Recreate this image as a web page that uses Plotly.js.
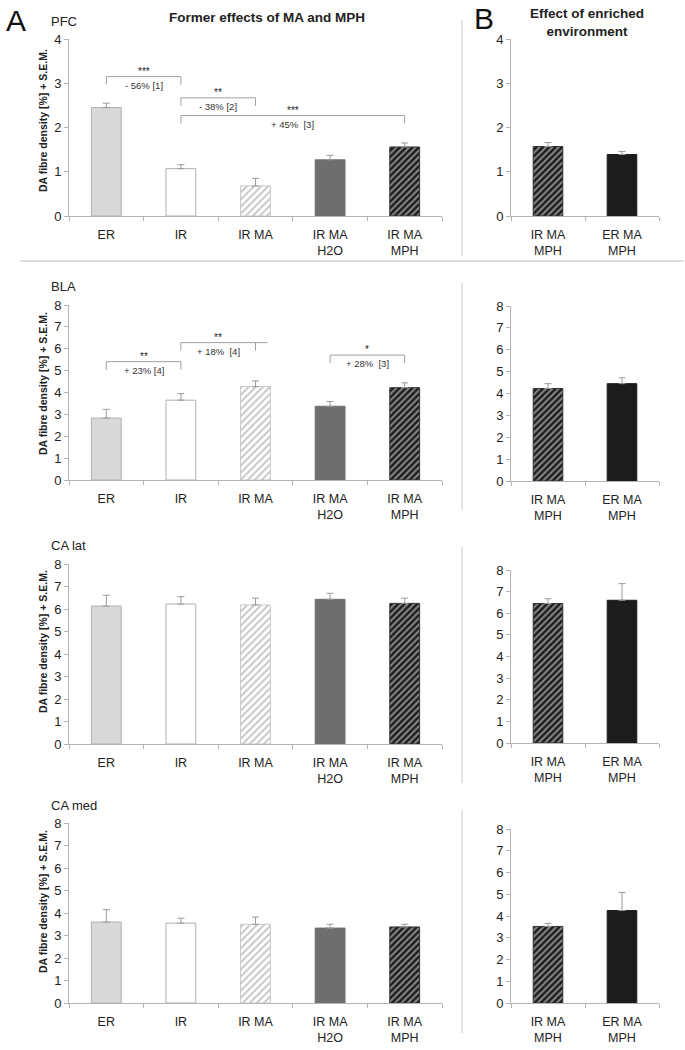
<!DOCTYPE html>
<html>
<head>
<meta charset="utf-8">
<script src="https://cdn.plot.ly/plotly-3.0.1.min.js"></script>
<style>html,body{margin:0;padding:0;background:#fff;}#chart{width:685px;height:1050px;}</style>
</head>
<body>
<div id="chart"></div>
<script>
// ---------- DATA ----------
const categoriesA = ['ER', 'IR', 'IR MA', 'IR MA<br>H2O', 'IR MA<br>MPH'];
const categoriesB = ['IR MA<br>MPH', 'ER MA<br>MPH'];
const regions = ['PFC', 'BLA', 'CA lat', 'CA med'];
const yMaxes = [4, 8, 8, 8];

const pfcMeansA = [2.45, 1.07, 0.68, 1.27, 1.56];
const pfcSemA   = [0.10, 0.09, 0.17, 0.10, 0.09];
const pfcMeansB = [1.57, 1.39];
const pfcSemB   = [0.09, 0.07];

const blaMeansA = [2.83, 3.65, 4.27, 3.37, 4.22];
const blaSemA   = [0.40, 0.30, 0.26, 0.22, 0.22];
const blaMeansB = [4.23, 4.45];
const blaSemB   = [0.22, 0.27];

const calatMeansA = [6.13, 6.22, 6.18, 6.43, 6.25];
const calatSemA   = [0.48, 0.33, 0.30, 0.27, 0.23];
const calatMeansB = [6.45, 6.60];
const calatSemB   = [0.22, 0.77];

const camedMeansA = [3.60, 3.55, 3.50, 3.33, 3.38];
const camedSemA   = [0.55, 0.22, 0.32, 0.17, 0.12];
const camedMeansB = [3.52, 4.25];
const camedSemB   = [0.14, 0.83];

// significance brackets: from/to category index, bracket level, stars, label
const pfcSigFrom   = [0, 1, 1];
const pfcSigTo     = [1, 2, 4];
const pfcSigLevel  = [3.15, 2.67, 2.27];
const pfcSigStars  = ['***', '**', '***'];
const pfcSigLabels = ['- 56% [1]', '- 38% [2]', '+ 45%  [3]'];

const blaSigFrom   = [0, 1, 3];
const blaSigTo     = [1, 2, 4];
const blaSigLevel  = [5.41, 6.28, 5.71];
const blaSigStars  = ['**', '**', '*'];
const blaSigLabels = ['+ 23% [4]', '+ 18%  [4]', '+ 28%  [3]'];

const meansA = [pfcMeansA, blaMeansA, calatMeansA, camedMeansA];
const semA   = [pfcSemA, blaSemA, calatSemA, camedSemA];
const meansB = [pfcMeansB, blaMeansB, calatMeansB, camedMeansB];
const semB   = [pfcSemB, blaSemB, calatSemB, camedSemB];
const sigSets = [
  {from: pfcSigFrom, to: pfcSigTo, level: pfcSigLevel, stars: pfcSigStars, labels: pfcSigLabels},
  {from: blaSigFrom, to: blaSigTo, level: blaSigLevel, stars: blaSigStars, labels: blaSigLabels},
  null, null
];

// ---------- STYLE / LAYOUT ----------
const W = 685, H = 1050;
const px = x => x / W;
const py = y => 1 - y / H;
const FONT = 'Liberation Sans, Arial, sans-serif';

// bar styles per category
const stER    = {color: '#d9d9d9', line: '#b0b0b0'};
const stIR    = {color: '#ffffff', line: '#b0b0b0'};
const stIRMA  = {color: '#ffffff', line: '#c8c8c8', shape: '/', fg: '#c4c4c4', size: 5, sol: 0.35};
const stH2O   = {color: '#6e6e6e', line: '#6e6e6e'};
const stMPH   = {color: '#8a8a8a', line: '#333333', shape: '/', fg: '#1c1c1c', size: 4.5, sol: 0.55};
const stERMPH = {color: '#1c1c1c', line: '#1c1c1c'};
const stylesA = [stER, stIR, stIRMA, stH2O, stMPH];
const stylesB = [stMPH, stERMPH];

// pixel geometry of the panels [top, bottom]
const leftX = [69, 442], rightX = [511, 659];
const leftY = [[39, 216], [305, 480], [564, 744], [823, 1003]];
const rightY = [[39, 216], [306, 481], [570, 743], [829, 1003]];
const yTitleCenters = [121, 384, 642, 902];
const regionLabelY = [21, 286, 545, 805];

const traces = [];
const layout = {
  width: W, height: H,
  margin: {l: 0, r: 0, t: 0, b: 0},
  paper_bgcolor: '#fff', plot_bgcolor: 'rgba(0,0,0,0)',
  showlegend: false, barmode: 'overlay',
  font: {family: FONT, color: '#222'},
  shapes: [], annotations: []
};

function axisPair(idx) {
  const n = idx === 1 ? '' : String(idx);
  return {x: 'x' + n, y: 'y' + n, xl: 'xaxis' + n, yl: 'yaxis' + n};
}

function barTrace(cat, val, sem, st, ax) {
  const marker = {color: st.color, line: {color: st.line, width: 1}};
  if (st.shape) {
    marker.pattern = {shape: st.shape, fgcolor: st.fg, bgcolor: st.color, size: st.size,
                      solidity: st.sol, fillmode: 'replace', fgopacity: 1};
  }
  return {
    type: 'bar', x: [cat], y: [val], xaxis: ax.x, yaxis: ax.y, width: 0.4,
    marker: marker,
    error_y: {type: 'data', symmetric: false, array: [sem], arrayminus: [0],
              color: '#9a9a9a', thickness: 1, width: 3.5},
    hoverinfo: 'skip'
  };
}

function xAxisCfg(domain, cats, anchor) {
  return {
    domain: domain, anchor: anchor, type: 'category', categoryarray: cats, categoryorder: 'array',
    range: [-0.5, cats.length - 0.5],
    showline: true, linecolor: '#b4b4b4', linewidth: 1,
    ticks: 'outside', tickson: 'boundaries', ticklen: 4, tickcolor: '#b4b4b4',
    showgrid: false, zeroline: false, fixedrange: true,
    tickfont: {family: FONT, size: 12.5, color: '#222'}, ticklabelstandoff: 7
  };
}
function yAxisCfg(domain, ymax, anchor) {
  return {
    domain: domain, anchor: anchor, range: [0, ymax], dtick: 1, tick0: 0,
    showline: true, linecolor: '#b4b4b4', linewidth: 1,
    ticks: 'outside', ticklen: 4, tickcolor: '#b4b4b4',
    showgrid: false, zeroline: false, fixedrange: true,
    tickfont: {family: FONT, size: 13, color: '#222'}
  };
}

for (let i = 0; i < 4; i++) {
  const aL = axisPair(2 * i + 1), aR = axisPair(2 * i + 2);
  categoriesA.forEach((c, j) => traces.push(barTrace(c, meansA[i][j], semA[i][j], stylesA[j], aL)));
  categoriesB.forEach((c, j) => traces.push(barTrace(c, meansB[i][j], semB[i][j], stylesB[j], aR)));

  layout[aL.xl] = xAxisCfg([px(leftX[0]), px(leftX[1])], categoriesA, aL.y);
  layout[aL.yl] = yAxisCfg([py(leftY[i][1]), py(leftY[i][0])], yMaxes[i], aL.x);
  layout[aR.xl] = xAxisCfg([px(rightX[0]), px(rightX[1])], categoriesB, aR.y);
  layout[aR.yl] = yAxisCfg([py(rightY[i][1]), py(rightY[i][0])], yMaxes[i], aR.x);

  // region label
  layout.annotations.push({xref: 'paper', yref: 'paper', x: px(49), y: py(regionLabelY[i]),
    xanchor: 'left', yanchor: 'middle', text: regions[i], showarrow: false,
    font: {family: FONT, size: 13, color: '#222'}});
  // y title
  layout.annotations.push({xref: 'paper', yref: 'paper', x: px(43), y: py(yTitleCenters[i]),
    xanchor: 'center', yanchor: 'middle', textangle: -90, showarrow: false,
    text: '<b>DA fibre density [%] + S.E.M.</b>',
    font: {family: FONT, size: 10.5, color: '#222'}});

  // significance brackets
  const sig = sigSets[i];
  if (sig) {
    const dropPx = 8;
    const unitPx = (leftY[i][1] - leftY[i][0]) / yMaxes[i];
    for (let k = 0; k < sig.from.length; k++) {
      const x0 = sig.from[k], x1 = sig.to[k], lv = sig.level[k];
      const drop = lv - dropPx / unitPx;
      const ln = {color: '#a0a0a0', width: 1};
      const over = (i === 1 && k === 1) ? 0.16 : 0;
      layout.shapes.push({type: 'line', xref: aL.x, yref: aL.y, x0: x0, x1: x1 + over, y0: lv, y1: lv, line: ln});
      layout.shapes.push({type: 'line', xref: aL.x, yref: aL.y, x0: x0, x1: x0, y0: lv, y1: drop, line: ln});
      layout.shapes.push({type: 'line', xref: aL.x, yref: aL.y, x0: x1, x1: x1, y0: lv, y1: drop, line: ln});
      const mid = (x0 + x1) / 2;
      layout.annotations.push({xref: aL.x, yref: aL.y, x: mid, y: lv, yanchor: 'bottom', yshift: -2,
        text: sig.stars[k], showarrow: false, font: {family: FONT, size: 10, color: '#222'}});
      layout.annotations.push({xref: aL.x, yref: aL.y, x: mid, y: lv, yanchor: 'top', yshift: -1,
        text: sig.labels[k], showarrow: false, font: {family: FONT, size: 9.5, color: '#333'}});
    }
  }
}

// headings
layout.annotations.push({xref: 'paper', yref: 'paper', x: px(16), y: py(20), xanchor: 'center', yanchor: 'middle',
  text: 'A', showarrow: false, font: {family: FONT, size: 30, color: '#111'}});
layout.annotations.push({xref: 'paper', yref: 'paper', x: px(484), y: py(19), xanchor: 'center', yanchor: 'middle',
  text: 'B', showarrow: false, font: {family: FONT, size: 30, color: '#111'}});
layout.annotations.push({xref: 'paper', yref: 'paper', x: px(267), y: py(17), xanchor: 'center', yanchor: 'middle',
  text: '<b>Former effects of MA and MPH</b>', showarrow: false, font: {family: FONT, size: 13.5, color: '#222'}});
layout.annotations.push({xref: 'paper', yref: 'paper', x: px(587), y: py(23), xanchor: 'center', yanchor: 'middle',
  text: '<b>Effect of enriched<br>environment</b>', showarrow: false, font: {family: FONT, size: 13.5, color: '#222'}});

// separators
const sepCol = '#c8c8c8';
layout.shapes.push({type: 'line', xref: 'paper', yref: 'paper', x0: px(20), x1: px(684), y0: py(261), y1: py(261),
  line: {color: '#dedede', width: 2}});
const vSeg = [[20, 256], [283, 510], [547, 783], [810, 1033]];
vSeg.forEach(s => layout.shapes.push({type: 'line', xref: 'paper', yref: 'paper', x0: px(462), x1: px(462),
  y0: py(s[0]), y1: py(s[1]), line: {color: sepCol, width: 1}}));

Plotly.newPlot('chart', traces, layout, {staticPlot: true, displayModeBar: false});
</script>
</body>
</html>
